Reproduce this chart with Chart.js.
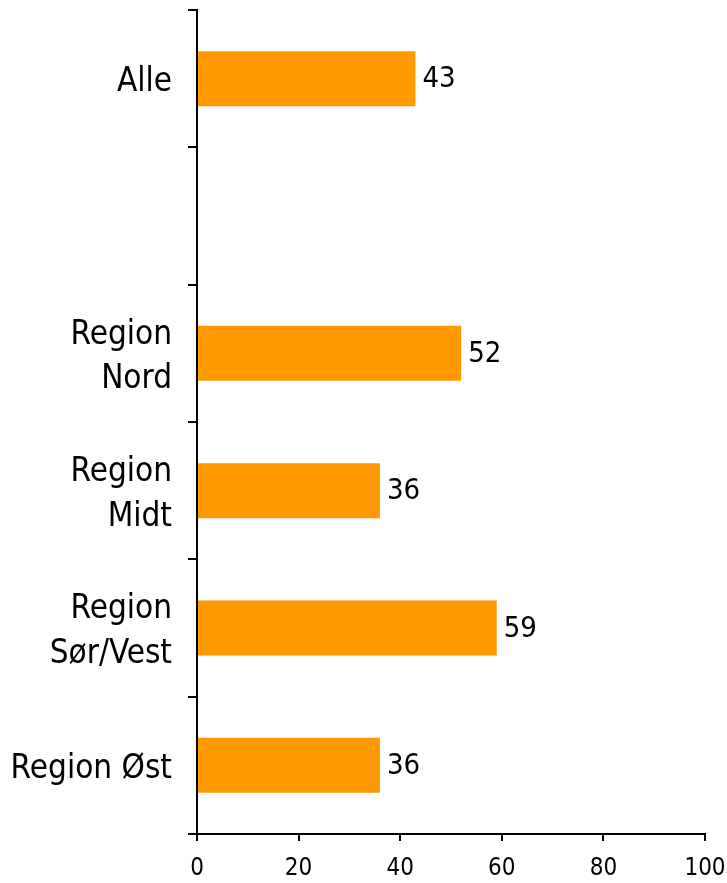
<!DOCTYPE html>
<html>
<head>
<meta charset="utf-8">
<script src="https://cdn.jsdelivr.net/npm/chart.js@4/dist/chart.umd.min.js"></script>
<style>
  html, body { margin: 0; padding: 0; background: #fff; }
  #wrap { width: 727px; height: 883px; }
</style>
</head>
<body>
<div id="wrap"><canvas id="c" width="727" height="883"></canvas></div>
<script>
const categories = [['Alle'], [''], ['Region', 'Nord'], ['Region', 'Midt'], ['Region', 'Sør/Vest'], ['Region Øst']];
const values = [43, null, 52, 36, 59, 36];
const xTicks = [0, 20, 40, 60, 80, 100];

const FONT = "'DejaVu Sans Condensed', 'DejaVu Sans', sans-serif";

const valueLabels = {
  id: 'valueLabels',
  afterDatasetsDraw(chart) {
    const ctx = chart.ctx;
    const meta = chart.getDatasetMeta(0);
    ctx.save();
    ctx.font = '29px ' + FONT;
    ctx.fillStyle = '#000';
    ctx.textAlign = 'left';
    ctx.textBaseline = 'middle';
    meta.data.forEach((bar, i) => {
      const v = values[i];
      if (v === null || v === undefined) return;
      ctx.fillText(String(v), bar.x + 7, bar.y + 1);
    });
    ctx.restore();
  }
};

new Chart(document.getElementById('c'), {
  type: 'bar',
  data: {
    labels: categories,
    datasets: [{
      data: values,
      backgroundColor: '#FF9900',
      borderWidth: 0,
      categoryPercentage: 1.0,
      barPercentage: 0.4
    }]
  },
  options: {
    indexAxis: 'y',
    responsive: false,
    animation: false,
    layout: { padding: { top: 10, right: 22, left: 0, bottom: 0 } },
    plugins: { legend: { display: false }, tooltip: { enabled: false } },
    scales: {
      x: {
        min: 0, max: 100,
        afterBuildTicks(scale) { scale.ticks = xTicks.map(v => ({ value: v })); },
        afterFit(scale) { scale.height = 49; scale.paddingLeft = 0; scale.paddingRight = 0; },
        border: { display: true, color: '#000', width: 2 },
        grid: { display: true, drawOnChartArea: false, drawTicks: true, tickLength: 7, color: '#000', lineWidth: 2 },
        ticks: { color: '#000', font: { family: FONT, size: 24 }, padding: 13, maxRotation: 0 }
      },
      y: {
        offset: true,
        afterFit(scale) { scale.width = 197; scale.paddingTop = 0; scale.paddingBottom = 0; },
        border: { display: true, color: '#000', width: 2 },
        grid: { display: true, offset: true, drawOnChartArea: false, drawTicks: true, tickLength: 9, color: '#000', lineWidth: 2 },
        ticks: { color: '#000', font: { family: FONT, size: 33, lineHeight: 1.35 }, padding: 16, labelOffset: 4, autoSkip: false }
      }
    }
  },
  plugins: [valueLabels]
});
</script>
</body>
</html>
